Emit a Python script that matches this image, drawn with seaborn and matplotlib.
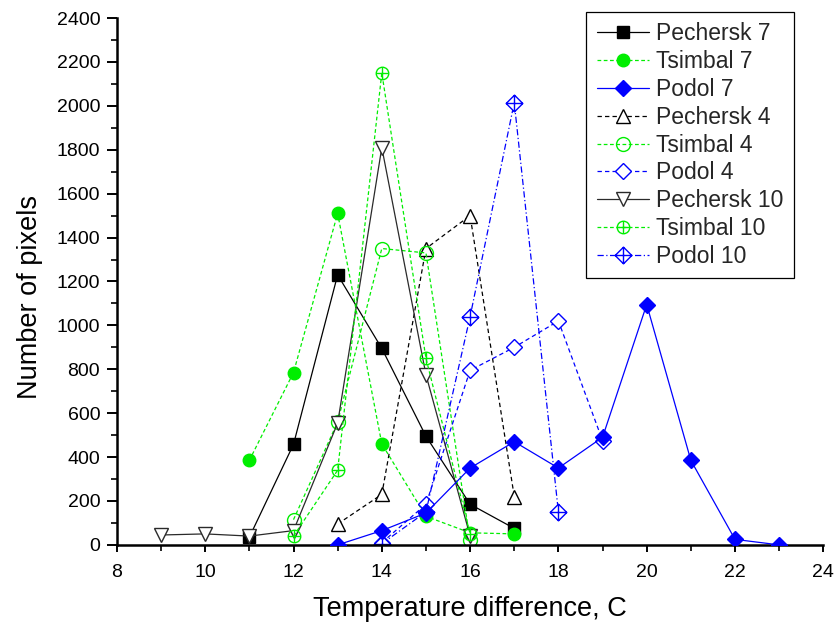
import numpy as np
import pandas as pd
import matplotlib
matplotlib.use("Agg")
import matplotlib.pyplot as plt
from matplotlib.path import Path
from matplotlib.ticker import MultipleLocator
import seaborn as sns

# Temperature difference (C) and pixel counts for each district / run
pechersk7_x = [11, 12, 13, 14, 15, 16, 17]
pechersk7_y = [35, 458, 1230, 895, 495, 185, 75]

tsimbal7_x = [11, 12, 13, 14, 15, 16, 17]
tsimbal7_y = [385, 785, 1510, 460, 130, 55, 50]

podol7_x = [13, 14, 15, 16, 17, 18, 19, 20, 21, 22, 23]
podol7_y = [0, 65, 145, 350, 470, 350, 490, 1095, 385, 25, 0]

pechersk4_x = [13, 14, 15, 16, 17]
pechersk4_y = [95, 230, 1350, 1500, 220]

tsimbal4_x = [12, 13, 14, 15, 16]
tsimbal4_y = [115, 560, 1350, 1330, 20]

podol4_x = [14, 15, 16, 17, 18, 19]
podol4_y = [10, 185, 795, 900, 1020, 475]

pechersk10_x = [9, 10, 11, 12, 13, 14, 15, 16]
pechersk10_y = [45, 50, 40, 65, 555, 1810, 775, 40]

tsimbal10_x = [12, 13, 14, 15, 16]
tsimbal10_y = [40, 340, 2150, 850, 50]

podol10_x = [14, 15, 16, 17, 18]
podol10_y = [5, 150, 1040, 2015, 150]

x_ticks = [8, 10, 12, 14, 16, 18, 20, 22, 24]
y_ticks = [0, 200, 400, 600, 800, 1000, 1200, 1400, 1600, 1800, 2000, 2200, 2400]

sns.set_theme(style="ticks")
plt.rcParams["font.family"] = ["Liberation Sans", "DejaVu Sans"]


def circle_plus():
    circ = Path.unit_circle()
    cross = Path([(-1, 0), (1, 0), (0, -1), (0, 1)],
                 [Path.MOVETO, Path.LINETO, Path.MOVETO, Path.LINETO])
    return Path.make_compound_path(circ, cross)


def diamond_plus():
    dia = Path([(0, 1), (1, 0), (0, -1), (-1, 0), (0, 1)],
               [Path.MOVETO, Path.LINETO, Path.LINETO, Path.LINETO, Path.CLOSEPOLY])
    cross = Path([(-1, 0), (1, 0), (0, -1), (0, 1)],
                 [Path.MOVETO, Path.LINETO, Path.MOVETO, Path.LINETO])
    return Path.make_compound_path(dia, cross)


BLACK = "#000000"
GREEN = "#00ee00"
BLUE = "#0000ff"
DASH = (0, (3.5, 2.5))
SHORTDASH = (0, (3, 2))
DASHDOT = (0, (5, 2, 1, 2))

# name, x, y, colour, line style, marker, face, marker size, zorder
series = [
    ("Pechersk 7", pechersk7_x, pechersk7_y, BLACK, "-", "s", BLACK, 8, 2),
    ("Tsimbal 7", tsimbal7_x, tsimbal7_y, GREEN, SHORTDASH, "o", GREEN, 9, 2),
    ("Podol 7", podol7_x, podol7_y, BLUE, "-", "D", BLUE, 8.5, 3),
    ("Pechersk 4", pechersk4_x, pechersk4_y, BLACK, DASH, "^", "white", 10, 2),
    ("Tsimbal 4", tsimbal4_x, tsimbal4_y, GREEN, SHORTDASH, "o", "none", 10, 2),
    ("Podol 4", podol4_x, podol4_y, BLUE, DASH, "D", "white", 8.5, 2),
    ("Pechersk 10", pechersk10_x, pechersk10_y, "#2a2a2a", "-", "v", "white", 10, 2),
    ("Tsimbal 10", tsimbal10_x, tsimbal10_y, GREEN, SHORTDASH, circle_plus(), "none", 9, 2),
    ("Podol 10", podol10_x, podol10_y, BLUE, DASHDOT, diamond_plus(), "white", 12, 2),
]

fig = plt.figure(figsize=(8.35, 6.22), dpi=100)
ax = fig.add_axes([0.140, 0.124, 0.846, 0.847])

for name, xs, ys, color, ls, marker, face, ms, z in series:
    df = pd.DataFrame({"x": xs, "y": ys})
    sns.lineplot(
        data=df, x="x", y="y", ax=ax, label=name,
        color=color, linestyle=ls, linewidth=0.9,
        marker=marker, markersize=ms,
        markerfacecolor=face, markeredgecolor=color, markeredgewidth=1.0,
        estimator=None, sort=False, zorder=z,
    )

ax.set_xlim(8, 24)
ax.set_ylim(0, 2400)
ax.set_xticks(x_ticks)
ax.set_yticks(y_ticks)
ax.xaxis.set_minor_locator(MultipleLocator(1))
ax.yaxis.set_minor_locator(MultipleLocator(100))
ax.tick_params(axis="both", which="both", direction="out", color="black",
               labelcolor="black", labelsize=14)
ax.tick_params(axis="x", which="major", length=5, width=1.4, pad=9)
ax.tick_params(axis="x", which="minor", length=4, width=1.2)
ax.tick_params(axis="y", which="major", length=7, width=1.4, pad=5)
ax.tick_params(axis="y", which="minor", length=4.3, width=1.2)

for side in ("top", "right"):
    ax.spines[side].set_visible(False)
for side in ("left", "bottom"):
    ax.spines[side].set_linewidth(1.8)
    ax.spines[side].set_color("black")

ax.set_xlabel("Temperature difference, C", fontsize=19.5, color="black")
ax.set_ylabel("Number of pixels", fontsize=19.5, color="black")
ax.xaxis.set_label_coords(0.5, -0.097)
ax.yaxis.set_label_coords(-0.105, 0.47)

leg = ax.legend(loc="upper right", bbox_to_anchor=(794 / 835, 1 - 12 / 622),
                bbox_transform=fig.transFigure, fontsize=16.5,
                frameon=True, fancybox=False, framealpha=1, edgecolor="black",
                handlelength=2.3, handletextpad=0.3, labelspacing=0.21,
                borderpad=0.45, borderaxespad=0)
leg.get_frame().set_linewidth(0.9)

fig.savefig("out.png", dpi=100)
